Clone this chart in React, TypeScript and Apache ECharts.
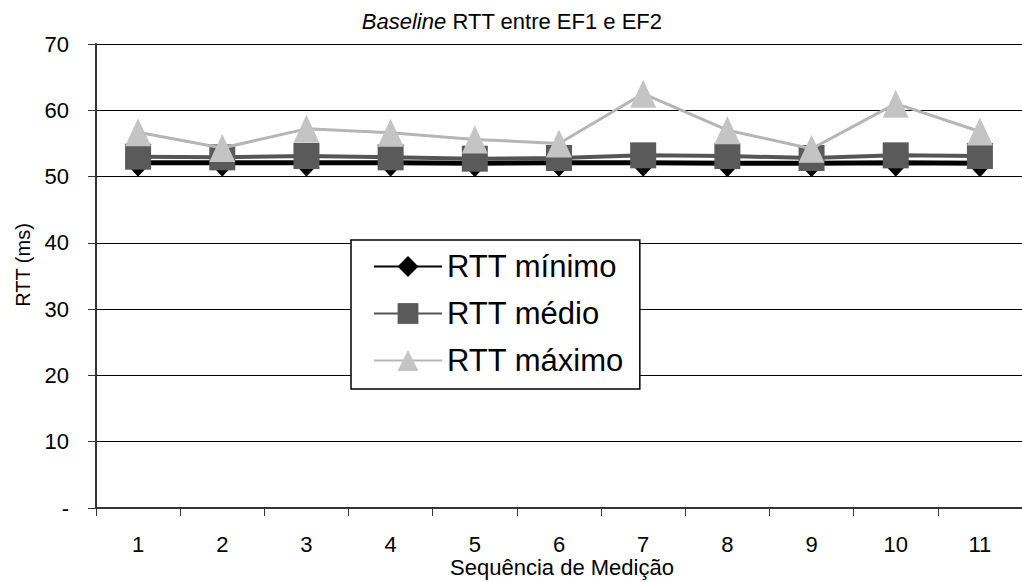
import React, { useEffect, useRef } from "react";
import * as echarts from "echarts";

const categories = ["1", "2", "3", "4", "5", "6", "7", "8", "9", "10", "11"];
const rttMin = [52.1, 52.1, 52.1, 52.1, 52.0, 52.1, 52.1, 52.0, 52.0, 52.1, 52.0];
const rttMed = [53.0, 52.9, 53.1, 52.9, 52.7, 52.8, 53.2, 53.1, 52.8, 53.2, 53.1];
const rttMax = [56.7, 54.3, 57.2, 56.6, 55.6, 55.0, 62.5, 57.0, 54.2, 61.0, 56.8];
const seriesNames = ["RTT mínimo", "RTT médio", "RTT máximo"];

const FONT = "'Liberation Sans', Arial, sans-serif";

export default function App() {
  const ref = useRef<HTMLDivElement>(null);
  useEffect(() => {
    if (!ref.current) return;
    const chart = echarts.init(ref.current, undefined, { renderer: "svg" });
    chart.setOption({
      animation: false,
      backgroundColor: "#ffffff",
      textStyle: { fontFamily: FONT },
      grid: { left: 96, right: -12, top: 44, bottom: 74, containLabel: false },
      graphic: [
        {
          type: "text",
          x: 512,
          y: 21,
          style: {
            text: "{i|Baseline} RTT entre EF1 e EF2",
            rich: {
              i: { fontStyle: "italic", fontSize: 22, fontFamily: FONT, fill: "#000" },
            },
            fontSize: 22,
            fontFamily: FONT,
            fill: "#000",
            align: "center",
            verticalAlign: "middle",
          },
        },
        {
          type: "text",
          x: 562,
          y: 567,
          style: {
            text: "Sequência de Medição",
            fontSize: 22,
            fontFamily: FONT,
            fill: "#000",
            align: "center",
            verticalAlign: "middle",
          },
        },
        {
          type: "text",
          x: 23,
          y: 265,
          rotation: Math.PI / 2,
          style: {
            text: "RTT (ms)",
            fontSize: 20,
            fontFamily: FONT,
            fill: "#000",
            align: "center",
            verticalAlign: "middle",
          },
        },
      ],
      legend: {
        left: 351,
        top: 240,
        orient: "vertical",
        data: seriesNames,
        itemWidth: 68,
        itemHeight: 26,
        itemGap: 16,
        padding: [11, 16, 13, 22],
        borderColor: "#000",
        borderWidth: 1.5,
        backgroundColor: "#fff",
        textStyle: { fontSize: 31, fontFamily: FONT, color: "#000", padding: [0, 0, 0, 0] },
      },
      xAxis: {
        type: "category",
        data: categories,
        boundaryGap: true,
        axisLine: { show: true, lineStyle: { color: "#333", width: 2 } },
        axisTick: { show: true, length: 8, lineStyle: { color: "#333" } },
        axisLabel: { fontSize: 22, color: "#000", margin: 25, fontFamily: FONT },
        splitLine: { show: false },
      },
      yAxis: {
        type: "value",
        min: 0,
        max: 70,
        interval: 10,
        axisLine: { show: true, lineStyle: { color: "#333", width: 2 } },
        axisTick: { show: true, length: 8, lineStyle: { color: "#333" } },
        axisLabel: {
          fontSize: 22,
          color: "#000",
          margin: 27,
          fontFamily: FONT,
          formatter: (v: number) => (v === 0 ? "-" : String(v)),
        },
        splitLine: { show: true, lineStyle: { color: "#000", width: 1 } },
      },
      series: [
        {
          name: seriesNames[0],
          type: "line",
          data: rttMin,
          symbol: "diamond",
          symbolSize: [26, 28],
          lineStyle: { color: "#000", width: 5 },
          itemStyle: { color: "#000" },
          z: 2,
        },
        {
          name: seriesNames[1],
          type: "line",
          data: rttMed,
          symbol: "rect",
          symbolSize: [26, 26],
          lineStyle: { color: "#555", width: 4 },
          itemStyle: { color: "#5a5a5a" },
          z: 3,
        },
        {
          name: seriesNames[2],
          type: "line",
          data: rttMax,
          symbol: "triangle",
          symbolSize: [26, 28],
          lineStyle: { color: "#b5b5b5", width: 3 },
          itemStyle: { color: "#c4c4c4" },
          z: 4,
        },
      ],
    });
    return () => chart.dispose();
  }, []);
  return (
    <div
      ref={ref}
      style={{ position: "absolute", left: 0, top: 0, width: 1022, height: 582 }}
    />
  );
}
